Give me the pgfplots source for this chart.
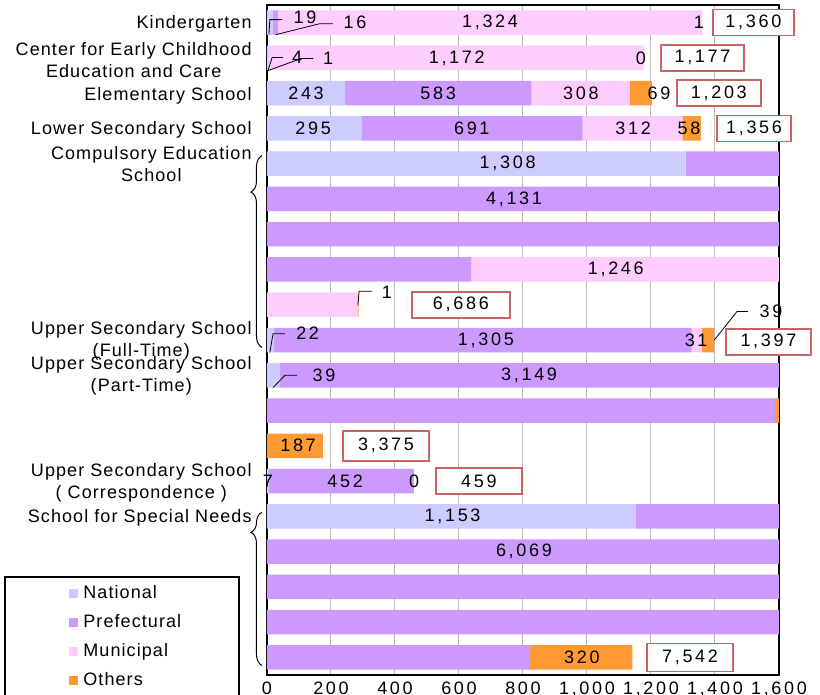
\documentclass[border=0pt]{standalone}
\usepackage{fontspec}
\setmainfont{Liberation Sans}[LetterSpace=6]
\newfontfamily\numfont{Liberation Sans}[LetterSpace=15]
\usepackage{pgfplots}
\pgfplotsset{compat=1.18}
\usepackage{pgfplotstable}
\usetikzlibrary{decorations.pathreplacing}

\definecolor{natcol}{HTML}{CCCCFF}
\definecolor{prefcol}{HTML}{CC99FF}
\definecolor{muncol}{HTML}{FFCCFF}
\definecolor{othcol}{HTML}{FF9933}
\definecolor{boxcol}{HTML}{C86464}

% each row of the chart is 1600 wide; large totals wrap onto following rows
\pgfplotstableread{
row nat pref mun oth
1  19   16   1324 1
2  4    1    1172 0
3  243  583  308  69
4  295  691  312  58
5  1308 292  0    0
6  0    1600 0    0
7  0    1600 0    0
8  0    639  961  0
9  0    0    285  1
10 22   1305 31   39
11 39   1561 0    0
12 0    1588 0    12
13 0    0    0    175
14 7    452  0    0
15 1153 447  0    0
16 0    1600 0    0
17 0    1600 0    0
18 0    1600 0    0
19 0    822  0    320
}\datatable

\tikzset{
  val/.style={font=\numfont\fontsize{9}{11}\selectfont, inner sep=0pt},
  tot/.style={val, draw=boxcol, line width=0.8pt, fill=white, minimum width=#1, minimum height=13pt},
  cat/.style={anchor=east, align=center, font=\fontsize{9}{11}\selectfont, inner sep=0pt, xshift=-7.5pt},
  lead/.style={black, line width=0.4pt},
}
\pgfplotsset{
  frame/.style={at={(0,0)}, anchor=south west, scale only axis,
    width=256pt, height=335pt, xmin=0, xmax=1600, ymin=0.5, ymax=19.5,
    y dir=reverse, clip=false},
}

\begin{document}
\begin{tikzpicture}
\begin{axis}[
    frame,
    xbar stacked,
    bar width=12.25pt,
    xtick distance=200,
    ytick=\empty,
    xmajorgrids,
    grid style={gray!55, line width=0.5pt},
    axis line style={black, line width=0.7pt},
    tick style={draw=none},
    xticklabel style={font=\numfont\fontsize{9}{11}\selectfont},
    /pgf/number format/1000 sep={,},
    /pgf/number format/assume math mode=true,
    legend style={at={(axis description cs:-0.3867,0.1358)}, anchor=north west,
      draw=none, fill=none, inner sep=0pt, row sep=5.5pt,
      font=\fontsize{9}{11}\selectfont,
      nodes={inner xsep=2.5pt, inner ysep=0pt, text height=7pt, text depth=2pt}},
    legend cell align=left,
    legend image code/.code={\fill[#1] (0pt,-2.25pt) rectangle (4.5pt,2.25pt);},
]
\addplot[fill=natcol, draw=none] table[x=nat, y=row] {\datatable};
\addplot[fill=prefcol, draw=none] table[x=pref, y=row] {\datatable};
\addplot[fill=muncol, draw=none] table[x=mun, y=row] {\datatable};
\addplot[fill=othcol, draw=none] table[x=oth, y=row] {\datatable};
\legend{National, Prefectural, Municipal, Others}
\end{axis}

% second axis on top: names, braces and value labels
\begin{axis}[frame, hide axis]
% category names
\node[cat] at (axis cs:0,1.03) {Kindergarten};
\node[cat] at (axis cs:0,2.05) {Center for Early Childhood\\Education and Care};
\node[cat] at (axis cs:0,3.07) {Elementary School};
\node[cat] at (axis cs:0,4.03) {Lower Secondary School};
\node[cat] at (axis cs:0,5.02) {Compulsory Education\\School};
\node[cat] at (axis cs:0,10.03) {Upper Secondary School\\(Full-Time)};
\node[cat] at (axis cs:0,11.02) {Upper Secondary School\\(Part-Time)};
\node[cat] at (axis cs:0,14.04) {Upper Secondary School\\( Correspondence )};
\node[cat] at (axis cs:0,15.03) {School for Special Needs};

% braces
\draw[decorate, decoration={brace, amplitude=5.5pt, aspect=0.81}, line width=0.5pt]
  ([xshift=-2.5pt]axis cs:0,10.21) -- ([xshift=-2.5pt]axis cs:0,4.77);
\draw[decorate, decoration={brace, amplitude=5.5pt, aspect=0.87}, line width=0.5pt]
  ([xshift=-2.5pt]axis cs:0,19.23) -- ([xshift=-2.5pt]axis cs:0,14.89);

% value labels
\draw[lead] (axis cs:6,1.34) -- (axis cs:9,0.915) -- (axis cs:47,0.915);
\draw[lead] (axis cs:28,1.34) -- (axis cs:165,1.03) -- (axis cs:206,1.03);
\node[val] at (axis cs:119,0.85) {19};
\node[val] at (axis cs:275,1.0) {16};
\node[val] at (axis cs:697,1.0) {1,324};
\node[val] at (axis cs:1350,1.0) {1};
\node[tot=40.5pt] at (axis cs:1520,1.0) {1,360};

\draw[lead] (axis cs:3,2.36) -- (axis cs:16,1.99) -- (axis cs:50,1.99);
\draw[lead] (axis cs:3,2.36) -- (axis cs:106,2.02) -- (axis cs:144,2.02);
\node[val] at (axis cs:94,1.99) {4};
\node[val] at (axis cs:191,2.0) {1};
\node[val] at (axis cs:593,2.0) {1,172};
\node[val] at (axis cs:1168,2.0) {0};
\node[tot=41.5pt] at (axis cs:1361,2.0) {1,177};

\node[val] at (axis cs:122,3) {243};
\node[val] at (axis cs:535,3) {583};
\node[val] at (axis cs:981,3) {308};
\node[val] at (axis cs:1225,3) {69};
\node[tot=42pt] at (axis cs:1412,3) {1,203};

\node[val] at (axis cs:144,4) {295};
\node[val] at (axis cs:640,4) {691};
\node[val] at (axis cs:1144,4) {312};
\node[val] at (axis cs:1319,4) {58};
\node[tot=37pt] at (axis cs:1522,4) {1,356};

\node[val] at (axis cs:752,5) {1,308};
\node[val] at (axis cs:772,6) {4,131};
\node[val] at (axis cs:1090,8) {1,246};
\draw[lead] (axis cs:284,9.02) -- (axis cs:288,8.62) -- (axis cs:328,8.62);
\node[val] at (axis cs:375,8.65) {1};
\node[tot=49pt] at (axis cs:606,9.0) {6,686};

\draw[lead] (axis cs:9,10.35) -- (axis cs:19,9.82) -- (axis cs:56,9.82);
\node[val] at (axis cs:127,9.82) {22};
\node[val] at (axis cs:684,10) {1,305};
\node[val] at (axis cs:1341,10) {31};
\draw[lead] (axis cs:1397,10.01) -- (axis cs:1469,9.19) -- (axis cs:1503,9.19);
\node[val] at (axis cs:1575,9.2) {39};
\node[tot=42.5pt] at (axis cs:1567,10.05) {1,397};

\draw[lead] (axis cs:19,11.35) -- (axis cs:56,11.0) -- (axis cs:94,11.0);
\node[val] at (axis cs:178,11.0) {39};
\node[val] at (axis cs:819,11) {3,149};
\node[val] at (axis cs:97,13) {187};
\node[tot=43pt, minimum height=15pt] at (axis cs:372,13) {3,375};

\node[val] at (axis cs:3,14) {7};
\node[val] at (axis cs:244,14) {452};
\node[val] at (axis cs:460,14) {0};
\node[tot=43pt] at (axis cs:662,14) {459};

\node[val] at (axis cs:580,15) {1,153};
\node[val] at (axis cs:803,16) {6,069};
\node[val] at (axis cs:984,19) {320};
\node[tot=43pt, minimum height=14pt] at (axis cs:1322,19) {7,542};
\end{axis}
% legend frame
\draw[black, line width=0.6pt] (-131pt,-12.5pt) rectangle (-14pt,49pt);
\pgfresetboundingbox
\useasboundingbox (-133.5pt,-10pt) rectangle (276.5pt,337.5pt);
\end{tikzpicture}
\end{document}
